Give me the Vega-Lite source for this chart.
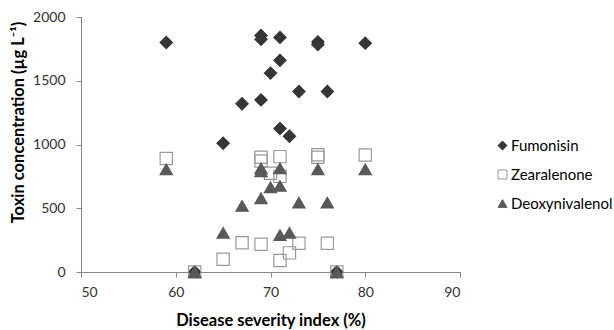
{
  "$schema": "https://vega.github.io/schema/vega-lite/v6.json",
  "autosize": {"type": "none"},
  "padding": {"left": 81, "top": 17, "right": 154, "bottom": 58},
  "width": 379,
  "height": 255,
  "background": "white",
  "config": {
    "view": {"stroke": null},
    "font": "Lato"
  },
  "data": {
    "values": [
      {"severity": 59, "toxin": 1800, "series": "Fumonisin"},
      {"severity": 62, "toxin": 0, "series": "Fumonisin"},
      {"severity": 65, "toxin": 1010, "series": "Fumonisin"},
      {"severity": 67, "toxin": 1320, "series": "Fumonisin"},
      {"severity": 69, "toxin": 1855, "series": "Fumonisin"},
      {"severity": 69, "toxin": 1825, "series": "Fumonisin"},
      {"severity": 69, "toxin": 1350, "series": "Fumonisin"},
      {"severity": 70, "toxin": 1560, "series": "Fumonisin"},
      {"severity": 71, "toxin": 1840, "series": "Fumonisin"},
      {"severity": 71, "toxin": 1660, "series": "Fumonisin"},
      {"severity": 71, "toxin": 1125, "series": "Fumonisin"},
      {"severity": 72, "toxin": 1065, "series": "Fumonisin"},
      {"severity": 73, "toxin": 1415, "series": "Fumonisin"},
      {"severity": 75, "toxin": 1805, "series": "Fumonisin"},
      {"severity": 75, "toxin": 1785, "series": "Fumonisin"},
      {"severity": 76, "toxin": 1415, "series": "Fumonisin"},
      {"severity": 77, "toxin": 0, "series": "Fumonisin"},
      {"severity": 80, "toxin": 1795, "series": "Fumonisin"},
      {"severity": 59, "toxin": 890, "series": "Zearalenone"},
      {"severity": 62, "toxin": 0, "series": "Zearalenone"},
      {"severity": 65, "toxin": 100, "series": "Zearalenone"},
      {"severity": 67, "toxin": 230, "series": "Zearalenone"},
      {"severity": 69, "toxin": 900, "series": "Zearalenone"},
      {"severity": 69, "toxin": 870, "series": "Zearalenone"},
      {"severity": 69, "toxin": 217, "series": "Zearalenone"},
      {"severity": 70, "toxin": 775, "series": "Zearalenone"},
      {"severity": 71, "toxin": 905, "series": "Zearalenone"},
      {"severity": 71, "toxin": 750, "series": "Zearalenone"},
      {"severity": 71, "toxin": 90, "series": "Zearalenone"},
      {"severity": 72, "toxin": 150, "series": "Zearalenone"},
      {"severity": 73, "toxin": 225, "series": "Zearalenone"},
      {"severity": 75, "toxin": 920, "series": "Zearalenone"},
      {"severity": 75, "toxin": 900, "series": "Zearalenone"},
      {"severity": 76, "toxin": 225, "series": "Zearalenone"},
      {"severity": 77, "toxin": 0, "series": "Zearalenone"},
      {"severity": 80, "toxin": 918, "series": "Zearalenone"},
      {"severity": 59, "toxin": 805, "series": "Deoxynivalenol"},
      {"severity": 62, "toxin": 0, "series": "Deoxynivalenol"},
      {"severity": 65, "toxin": 308, "series": "Deoxynivalenol"},
      {"severity": 67, "toxin": 518, "series": "Deoxynivalenol"},
      {"severity": 69, "toxin": 813, "series": "Deoxynivalenol"},
      {"severity": 69, "toxin": 790, "series": "Deoxynivalenol"},
      {"severity": 69, "toxin": 578, "series": "Deoxynivalenol"},
      {"severity": 70, "toxin": 664, "series": "Deoxynivalenol"},
      {"severity": 71, "toxin": 813, "series": "Deoxynivalenol"},
      {"severity": 71, "toxin": 675, "series": "Deoxynivalenol"},
      {"severity": 71, "toxin": 290, "series": "Deoxynivalenol"},
      {"severity": 72, "toxin": 308, "series": "Deoxynivalenol"},
      {"severity": 73, "toxin": 544, "series": "Deoxynivalenol"},
      {"severity": 75, "toxin": 805, "series": "Deoxynivalenol"},
      {"severity": 76, "toxin": 544, "series": "Deoxynivalenol"},
      {"severity": 77, "toxin": 0, "series": "Deoxynivalenol"},
      {"severity": 80, "toxin": 805, "series": "Deoxynivalenol"}
    ]
  },
  "mark": {"type": "point", "opacity": 1, "strokeWidth": 1.2, "size": 150},
  "encoding": {
    "x": {
      "field": "severity",
      "type": "quantitative",
      "scale": {"domain": [50, 90], "nice": false, "zero": false},
      "axis": {
        "values": [50, 60, 70, 80, 90],
        "format": "d",
        "grid": false,
        "domainColor": "#868686",
        "tickColor": "#868686",
        "tickSize": 5,
        "labelPadding": 8,
        "labelFontSize": 14,
        "labelColor": "#333333",
        "labelFont": "Lato",
        "title": "Disease severity index (%)",
        "titleFont": "Lato",
        "titleFontSize": 16.5,
        "titleFontWeight": "bold",
        "titleColor": "#000000",
        "titleBaseline": "middle",
        "titleY": 48
      }
    },
    "y": {
      "field": "toxin",
      "type": "quantitative",
      "scale": {"domain": [0, 2000], "nice": false},
      "axis": {
        "values": [0, 500, 1000, 1500, 2000],
        "format": "d",
        "grid": false,
        "domainColor": "#868686",
        "tickColor": "#868686",
        "tickSize": 5,
        "labelPadding": 11,
        "labelFontSize": 14,
        "labelColor": "#333333",
        "labelFont": "Lato",
        "title": "Toxin concentration (µg L⁻¹)",
        "titleFont": "Lato",
        "titleFontSize": 16.5,
        "titleFontWeight": "bold",
        "titleColor": "#000000",
        "titleAngle": -90,
        "titleAlign": "center",
        "titleBaseline": "middle",
        "titleX": -63,
        "titleY": 105
      }
    },
    "shape": {
      "field": "series",
      "type": "nominal",
      "scale": {
        "domain": ["Fumonisin", "Zearalenone", "Deoxynivalenol"],
        "range": ["diamond", "square", "triangle-up"]
      },
      "legend": {
        "title": null,
        "orient": "none",
        "legendX": 414,
        "legendY": 121,
        "padding": 0,
        "rowPadding": 13,
        "symbolSize": 80,
        "symbolStrokeWidth": 1,
        "labelFont": "Lato",
        "labelFontSize": 15,
        "labelColor": "#000000",
        "labelOffset": 1
      }
    },
    "fill": {
      "field": "series",
      "type": "nominal",
      "scale": {
        "domain": ["Fumonisin", "Zearalenone", "Deoxynivalenol"],
        "range": ["#353535", "transparent", "#595959"]
      },
      "legend": {
        "title": null,
        "orient": "none",
        "legendX": 414,
        "legendY": 121,
        "padding": 0,
        "rowPadding": 13,
        "symbolSize": 80,
        "symbolStrokeWidth": 1,
        "labelFont": "Lato",
        "labelFontSize": 15,
        "labelColor": "#000000",
        "labelOffset": 1
      }
    },
    "stroke": {
      "field": "series",
      "type": "nominal",
      "scale": {
        "domain": ["Fumonisin", "Zearalenone", "Deoxynivalenol"],
        "range": ["#353535", "#9a9a9a", "#595959"]
      },
      "legend": {
        "title": null,
        "orient": "none",
        "legendX": 414,
        "legendY": 121,
        "padding": 0,
        "rowPadding": 13,
        "symbolSize": 80,
        "symbolStrokeWidth": 1,
        "labelFont": "Lato",
        "labelFontSize": 15,
        "labelColor": "#000000",
        "labelOffset": 1
      }
    }
  }
}
